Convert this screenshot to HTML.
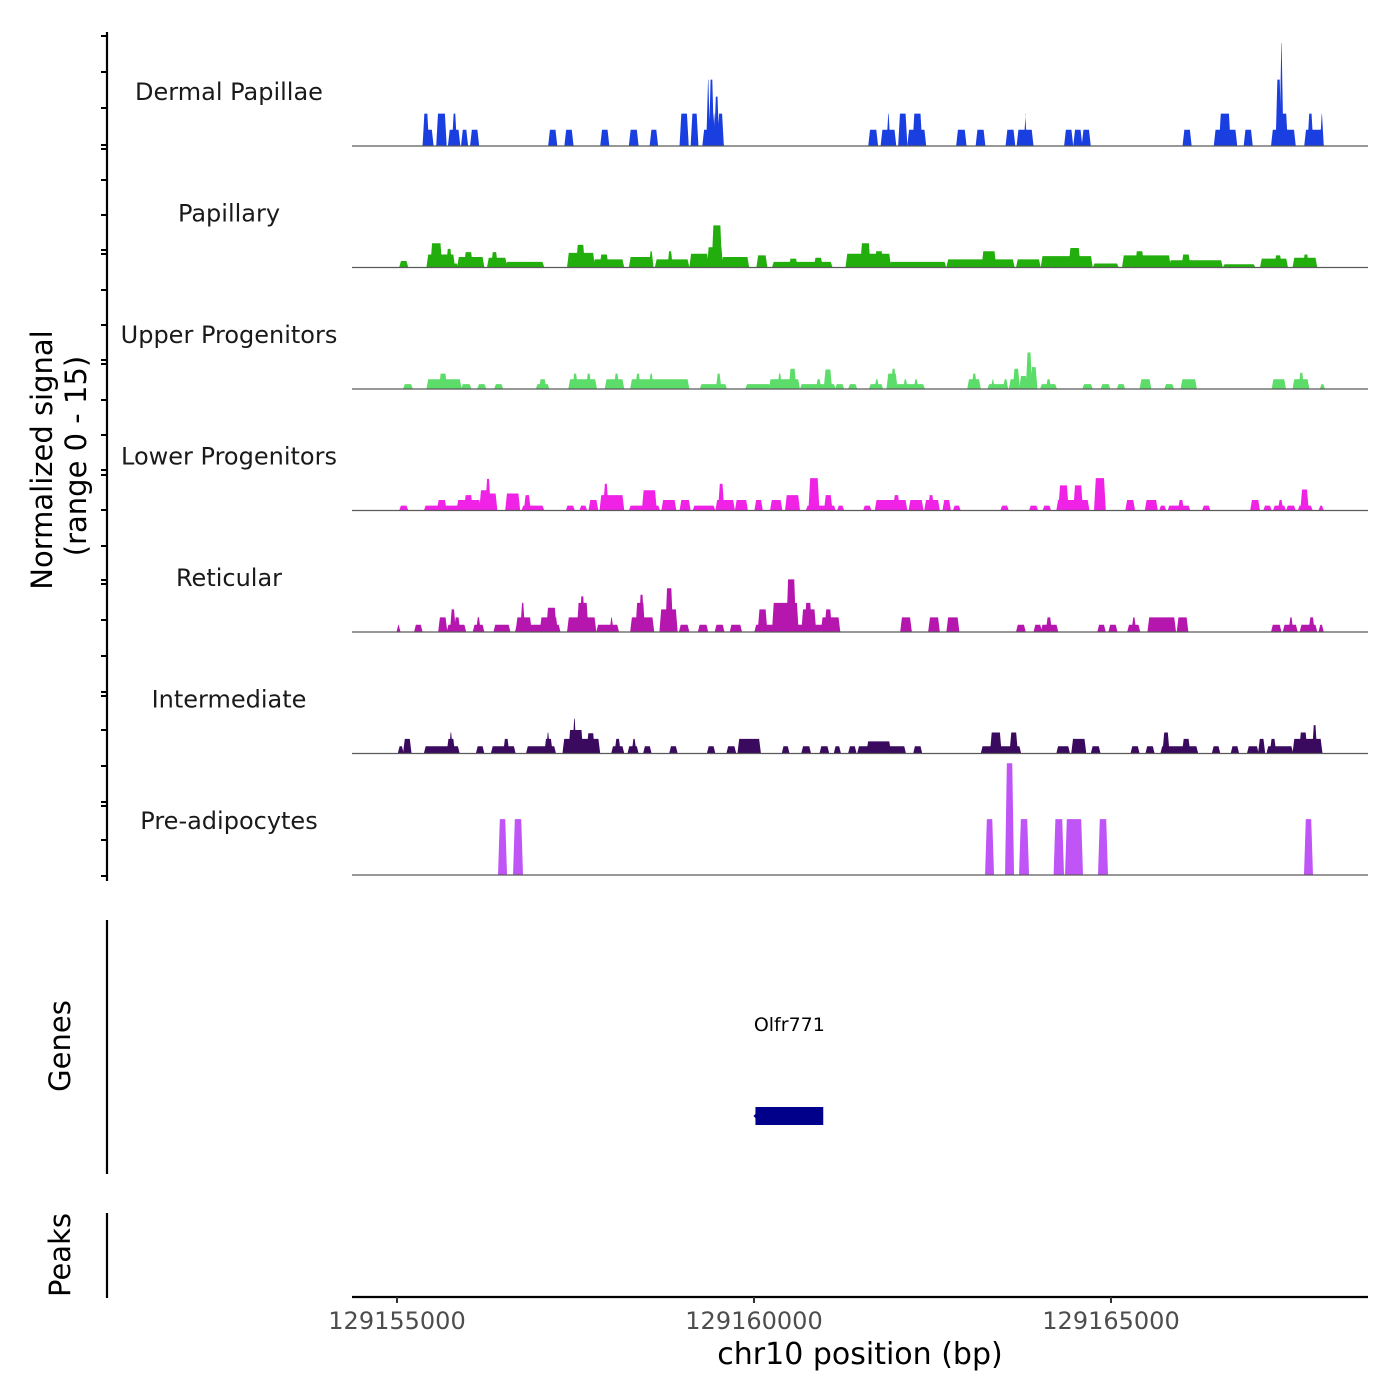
<!DOCTYPE html>
<html><head><meta charset="utf-8">
<style>
html,body{margin:0;padding:0;background:#fff;}
svg{display:block;font-family:"DejaVu Sans","Liberation Sans",sans-serif;}
</style></head>
<body>
<svg id="chart" width="1400" height="1400" viewBox="0 0 1400 1400" xmlns="http://www.w3.org/2000/svg">
  <g id="tracks"></g>
  <line x1="107" y1="32" x2="107" y2="881" stroke="#000" stroke-width="2.2"/>
  <g id="yticks"></g>
  <text transform="translate(52,460) rotate(-90)" text-anchor="middle" font-size="29" fill="#000">Normalized signal</text>
  <text transform="translate(86,456) rotate(-90)" text-anchor="middle" font-size="29" fill="#000">(range 0 - 15)</text>
  <line x1="107" y1="920" x2="107" y2="1174" stroke="#000" stroke-width="2.2"/>
  <text transform="translate(70,1046) rotate(-90)" text-anchor="middle" font-size="29" fill="#000">Genes</text>
  <line x1="107" y1="1213" x2="107" y2="1298" stroke="#000" stroke-width="2.2"/>
  <text transform="translate(70,1255) rotate(-90)" text-anchor="middle" font-size="29" fill="#000">Peaks</text>
  <g id="genes"></g>
  <line x1="352" y1="1297" x2="1368" y2="1297" stroke="#000" stroke-width="2.2"/>
  <g id="xticks"></g>
  <text x="860" y="1364" text-anchor="middle" font-size="30" fill="#000">chr10 position (bp)</text>
</svg>
<script>
const regionStart = 129155000;
const trackNames = ["Dermal Papillae","Papillary","Upper Progenitors","Lower Progenitors","Reticular","Intermediate","Pre-adipocytes"];
const trackColors = ["#1a3fe0","#22ae0c","#5cdc68","#ef22e6","#b516ae","#3a0a5e","#bf55f7"];
// segments: [startOffsetBp, endOffsetBp, signal]
const dermalPapillae = [[372,499,2],[372,436,4],[563,682,4],[727,873,2],[782,827,4],[910,982,2],[1037,1137,2],[2131,2231,2],[2358,2459,2],[2860,2960,2],[3261,3370,2],[3552,3643,2],[3971,4072,4],[4126,4208,4],[4290,4564,2],[4345,4372,8.2],[4381,4427,8.2],[4427,4454,4],[4454,4500,6.1],[4500,4564,4],[6614,6724,2],[6787,6979,2],[6869,6897,4],[7033,7134,4],[7161,7398,2],[7234,7343,4],[7845,7963,2],[8118,8227,2],[8537,8646,2],[8692,8901,2],[8792,8810,4],[9357,9457,2],[9485,9585,2],[9603,9703,2],[11016,11116,2],[11453,11754,2],[11526,11663,4],[11872,11972,2],[12255,12574,2],[12319,12465,4],[12319,12374,8.2],[12374,12401,12.7],[12720,12966,2],[12765,12820,4],[12940,12966,4]];
const papillary = [[44,144,0.8],[426,800,1.6],[480,620,3.0],[700,760,2.3],[800,846,0.5],[855,1210,1.3],[950,1050,1.9],[1274,1529,1.2],[1330,1400,1.9],[1529,2049,0.7],[2395,2759,1.8],[2520,2620,2.8],[2759,3169,1],[2850,2950,1.6],[3261,3579,1.3],[3540,3579,2],[3625,4081,1],[3800,3850,2],[4108,4354,1.7],[4354,4555,2.5],[4420,4540,5.2],[4555,4919,1.3],[5047,5174,1.5],[5265,6086,0.7],[5500,5600,1.1],[5850,5950,1.2],[6295,6906,1.7],[6500,6620,3],[6700,6800,2],[6906,7680,0.7],[7708,8637,1],[8200,8380,2],[8683,9002,1],[9029,9731,1.4],[9420,9560,2.4],[9758,10095,0.5],[10168,10824,1.5],[10350,10450,2],[10824,11553,0.9],[11000,11100,1.6],[11580,12009,0.4],[12100,12465,1.1],[12300,12380,1.5],[12556,12875,1.2],[12700,12760,1.6]];
const upperProgenitors = [[98,208,0.6],[426,891,1.2],[600,690,1.9],[910,1028,0.6],[1137,1237,0.6],[1374,1474,0.6],[1957,2121,0.6],[2000,2080,1.2],[2413,2787,1.2],[2470,2520,1.9],[2660,2710,1.9],[2923,3169,1.2],[3050,3100,1.9],[3279,4081,1.2],[3350,3400,1.9],[3540,3580,1.9],[4254,4609,0.6],[4480,4530,1.9],[4892,5220,0.6],[5220,5630,1.2],[5340,5380,1.9],[5500,5580,2.5],[5657,6131,0.6],[5880,5930,1.2],[5990,6080,2.4],[6149,6250,0.6],[6332,6432,0.6],[6623,6796,0.6],[6700,6740,1.2],[6869,6997,1.9],[6930,6980,2.5],[6997,7380,0.6],[7100,7140,1.2],[7250,7290,1.2],[8000,8163,1.2],[8060,8110,1.9],[8282,8546,0.6],[8330,8360,1.2],[8500,8546,1.2],[8583,8683,1.2],[8637,8710,2.5],[8728,8820,1.6],[8820,8883,4.5],[8883,8956,2.7],[9020,9230,0.6],[9100,9150,1.2],[9612,9731,0.6],[9868,9977,0.6],[10095,10186,0.6],[10414,10551,1.2],[10760,10870,0.6],[10988,11189,1.2],[12264,12437,1.2],[12556,12765,1.2],[12640,12690,2],[12938,12984,0.6]];
const lowerProgenitors = [[44,144,0.6],[390,1392,0.6],[572,682,1.3],[846,1165,1.3],[950,1050,1.9],[1165,1274,2.5],[1250,1300,3.9],[1274,1392,2.1],[1529,1711,2.1],[1757,2049,0.6],[1790,1860,1.9],[2377,2477,0.6],[2568,2650,0.6],[2696,2805,1.3],[2850,3169,1.9],[2900,2950,3.3],[3261,3671,0.6],[3443,3625,2.5],[3716,3899,1.3],[3971,4099,1.3],[4154,4445,0.6],[4473,4719,1.3],[4510,4570,3.3],[4746,4901,1.3],[5019,5110,1.3],[5238,5384,1.3],[5448,5630,1.9],[5739,6131,0.6],[5776,5903,4],[5994,6086,1.9],[6177,6250,0.6],[6541,6632,0.6],[6705,7134,1.3],[6960,7030,1.9],[7179,7361,1.3],[7398,7589,1.3],[7450,7510,1.9],[7653,7744,1.3],[7799,7881,0.6],[8464,8555,0.6],[8865,8965,0.6],[9056,9148,0.6],[9248,9685,1.3],[9275,9394,3.1],[9485,9594,3.1],[9776,9913,4],[10214,10323,1.3],[10487,10642,1.3],[10688,10760,0.6],[10806,11098,0.6],[10950,11010,1.3],[11289,11380,0.6],[11963,12073,1.3],[12146,12237,0.6],[12282,12437,0.6],[12350,12400,1.3],[12465,12574,0.6],[12629,12811,0.6],[12665,12756,2.6],[12920,12966,0.6]];
const reticular = [[7,35,0.9],[253,344,0.9],[590,691,1.8],[709,955,0.9],[755,810,2.8],[810,873,1.8],[1074,1210,0.9],[1120,1160,1.8],[1365,1575,0.9],[1666,2276,0.9],[1675,1875,1.8],[1740,1780,3.6],[2012,2240,1.8],[2103,2222,3],[2395,2778,1.8],[2532,2668,3.6],[2570,2620,4.4],[2805,3096,0.9],[2990,3020,1.8],[3279,3589,1.8],[3352,3461,3.6],[3400,3450,4.6],[3689,3917,2.8],[3771,3853,5.4],[3962,4081,0.9],[4227,4345,0.9],[4463,4573,0.9],[4673,4819,0.9],[5019,6195,0.9],[5065,5174,2.8],[5265,5612,3.6],[5466,5575,6.5],[5676,5858,2.8],[5720,5800,3.6],[5949,6195,1.8],[6000,6080,2.8],[7061,7197,1.8],[7453,7589,1.8],[7708,7863,1.8],[8683,8792,0.9],[8929,9020,0.9],[9029,9248,0.9],[9100,9160,1.8],[9822,9913,0.9],[9977,10077,0.9],[10241,10396,0.9],[10300,10340,1.8],[10524,10897,1.8],[10934,11070,1.8],[12255,12374,0.9],[12419,12601,0.9],[12500,12540,1.8],[12656,12875,0.9],[12780,12840,1.8],[12920,12966,0.9]];
const intermediate = [[25,80,0.9],[98,190,1.8],[390,864,0.9],[709,800,1.8],[740,770,2.6],[1119,1210,0.9],[1329,1648,0.9],[1500,1560,1.8],[1821,2213,0.9],[2076,2167,1.8],[2100,2130,2.6],[2331,2832,1.8],[2413,2595,2.9],[2470,2500,4.3],[2668,2759,2.5],[3014,3169,0.9],[3060,3120,1.8],[3242,3370,0.9],[3300,3340,1.8],[3461,3552,0.9],[3826,3917,0.9],[4354,4445,0.9],[4627,4737,0.9],[4782,5083,1.8],[5402,5484,0.9],[5676,5785,0.9],[5931,6040,0.9],[6131,6204,0.9],[6332,6423,0.9],[6459,7115,0.9],[6587,6906,1.5],[7243,7343,0.9],[8190,8728,0.9],[8318,8455,2.6],[8592,8683,2.6],[9248,9412,0.9],[9457,9640,1.8],[9731,9840,0.9],[10287,10387,0.9],[10496,10597,0.9],[10706,11207,0.9],[10734,10807,2.6],[11007,11098,1.8],[11426,11517,0.9],[11690,11781,0.9],[11918,12055,0.9],[12073,12146,1.8],[12191,12538,0.9],[12237,12301,1.8],[12556,12948,1.8],[12647,12738,2.6],[12829,12875,3.5]];
const preAdipocytes = [[1429,1527,6.9],[1639,1751,6.9],[8250,8348,6.9],[8530,8628,13.8],[8726,8838,6.9],[9210,9328,6.9],[9370,9594,6.9],[9832,9944,6.9],[12717,12815,6.9]];
const trackData = [dermalPapillae,papillary,upperProgenitors,lowerProgenitors,reticular,intermediate,preAdipocytes];
const yMax = 15;
const xTickValues = [129155000,129160000,129165000];
const genes = [["Olfr771",129160020,129160970]];
const yAxisTickYs = [36,72,108,145,149,180,215,250,254,290,325,360,364,400,435,470,475,510,546,580,584,620,656,692,696,730,766,802,806,840,876];

const NS="http://www.w3.org/2000/svg";
function xScale(bp){return 397 + (bp-regionStart)*357/5000;}
const trackTop0=24.5, trackH=121.5;
function baseOf(i){return trackTop0 + trackH*(i+1);}
function yScale(v,i){return baseOf(i) - v/yMax*trackH;}
function mk(tag,attrs,parent){const e=document.createElementNS(NS,tag);for(const k in attrs)e.setAttribute(k,attrs[k]);parent.appendChild(e);return e;}

const tg=document.getElementById('tracks');
trackData.forEach((segs,i)=>{
  const g=mk('g',{},tg);
  
  
  const b=baseOf(i);
  const lbl=mk('text',{x:229,y:b-46,'text-anchor':'middle','font-size':'24',fill:'#1a1a1a'},g);
  lbl.textContent=trackNames[i];
  
  
  segs.forEach(s=>{
    const x0=xScale(regionStart+s[0]), x1=xScale(regionStart+s[1]), yt=yScale(s[2],i);
    const p=mk('polygon',{points:`${x0-1},${b} ${x0+0.8},${yt} ${x1-0.8},${yt} ${x1+1},${b}`,fill:trackColors[i]},g);
    
    
  });
  const bl=mk('line',{x1:352,x2:1368,y1:b,y2:b,stroke:'#5a5a5a','stroke-width':1.2},g);
  
  
});

const yt=document.getElementById('yticks');
yAxisTickYs.forEach(y=>{
  const t=mk('line',{x1:101,x2:107,y1:y,y2:y,stroke:'#000','stroke-width':2},yt);
  
  
});

const gg=document.getElementById('genes');
genes.forEach(gn=>{
  const x0=xScale(gn[1]), x1=xScale(gn[2]);
  const r=mk('rect',{x:x0,y:1107,width:x1-x0,height:18,fill:'#00008b'},gg);
  
  
  const a=mk('polygon',{points:`${x0-2},1116 ${x0+2},1112 ${x0+2},1120`,fill:'#00008b'},gg);
  
  
  const t=mk('text',{x:(x0+x1)/2,y:1031,'text-anchor':'middle','font-size':'19',fill:'#000'},gg);
  t.textContent=gn[0];
  
  
});

const xt=document.getElementById('xticks');
xTickValues.forEach(v=>{
  const x=xScale(v);
  const l=mk('line',{x1:x,x2:x,y1:1297,y2:1303,stroke:'#333','stroke-width':2},xt);
  
  
  const t=mk('text',{x:x,y:1329,'text-anchor':'middle','font-size':'24',fill:'#4d4d4d'},xt);
  t.textContent=String(v);
  
  
});
</script>
</body></html>
